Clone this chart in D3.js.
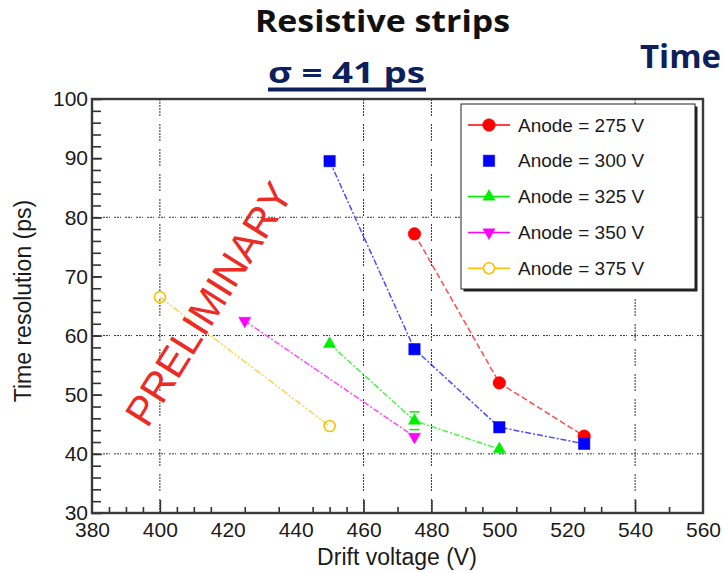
<!DOCTYPE html>
<html>
<head>
<meta charset="utf-8">
<script src="https://cdn.jsdelivr.net/npm/d3@7"></script>
<style>
  body { margin: 0; background: #fff; }
  svg { display: block; }
  text { font-family: "Liberation Sans", Arial, sans-serif; }
</style>
</head>
<body>
<svg id="chart" width="725" height="573"></svg>
<script>
// values
var seriesNames = ["Anode = 275 V", "Anode = 300 V", "Anode = 325 V", "Anode = 350 V", "Anode = 375 V"];
var drift275 = [475, 500, 525];
var res275   = [77.2, 52.0, 43.0];
var drift300 = [450, 475, 500, 525];
var res300   = [89.5, 57.7, 44.5, 41.7];
var drift325 = [450, 475, 500];
var res325   = [58.6, 45.6, 40.8];
var err325   = [0, 1.5, 0];
var drift350 = [425, 475];
var res350   = [62.5, 42.9];
var drift375 = [400, 450];
var res375   = [66.5, 44.7];

var xTickLabels = [380, 400, 420, 440, 460, 480, 500, 520, 540, 560];
var yTickLabels = [30, 40, 50, 60, 70, 80, 90, 100];
var xGrid = [400, 460, 480, 540];
var yGrid = [40, 60, 80];
var xMinorTicks = [385, 390, 395, 405, 410, 415, 425, 435, 445, 450, 455, 470, 490, 495, 505, 515, 525, 530, 550];
var yMinorTicks = d3.range(32, 100, 2);

var svg = d3.select("#chart");
svg.append("rect").attr("width", 725).attr("height", 573).attr("fill", "#fff");

var padL = 92, padR = 703, padT = 99, padB = 513;

var xScale = d3.scaleLinear().domain([380, 560]).range([padL, padR]);
var yScale = d3.scaleLinear().domain([30, 100]).range([padB, padT]);

// slide headings
svg.append("text")
    .attr("x", 255).attr("y", 32)
    .attr("textLength", 255)
    .attr("lengthAdjust", "spacingAndGlyphs")
    .style("font-family", "'Open Sans', 'Noto Sans', sans-serif")
    .style("font-weight", "bold")
    .style("font-size", "30px")
    .style("fill", "#111")
    .text("Resistive strips");

svg.append("text")
    .attr("x", 268).attr("y", 83)
    .attr("textLength", 157)
    .attr("lengthAdjust", "spacingAndGlyphs")
    .style("font-family", "'Open Sans', 'Noto Sans', sans-serif")
    .style("font-weight", "bold")
    .style("font-size", "28px")
    .style("fill", "#0d1f5c")
    .text("σ = 41 ps");
svg.append("rect")
    .attr("x", 268).attr("y", 87.5).attr("width", 158).attr("height", 4)
    .attr("fill", "#0d1f5c");

svg.append("text")
    .attr("x", 640).attr("y", 68)
    .style("font-family", "'Open Sans', 'Noto Sans', sans-serif")
    .style("font-weight", "bold")
    .style("font-size", "33px")
    .style("fill", "#0d1f5c")
    .text("Time");

// grid (dotted dashes)
var grid = svg.append("g")
    .attr("stroke", "#333")
    .attr("stroke-width", 1);
grid.selectAll(".gx")
    .data(xGrid)
    .enter().append("line")
    .attr("x1", function(d) { return xScale(d); })
    .attr("x2", function(d) { return xScale(d); })
    .attr("y1", padT).attr("y2", padB)
    .attr("stroke-dasharray", "2,1,2,1,2,1,2,1,2,1,2,8");
grid.selectAll(".gy")
    .data(yGrid)
    .enter().append("line")
    .attr("x1", padL).attr("x2", padR)
    .attr("y1", function(d) { return yScale(d); })
    .attr("y2", function(d) { return yScale(d); })
    .attr("stroke-dasharray", "2,1,2,1,1,4");

// axes (ticks pointing inside, like ROOT)
var yAxis = d3.axisLeft(yScale).tickValues(yTickLabels).tickSize(-10).tickPadding(4);
var yMinor = d3.axisLeft(yScale).tickValues(yMinorTicks).tickSize(-9).tickFormat("");
var xAxis = d3.axisBottom(xScale).tickValues(xTickLabels).tickSize(0).tickPadding(9);
var xMajor = d3.axisBottom(xScale).tickValues(xGrid).tickSize(-13).tickFormat("");
var xMinor = d3.axisBottom(xScale).tickValues(xMinorTicks).tickSize(-6).tickFormat("");

function styleAxis(g) {
    g.select(".domain").remove();
    g.selectAll("line").attr("stroke", "#333").attr("stroke-width", 1.6);
    g.selectAll("text").style("font-size", "21px").attr("fill", "#1a1a1a");
}

svg.append("g").attr("transform", "translate(" + padL + ",0)").call(yMinor).call(styleAxis);
svg.append("g").attr("transform", "translate(" + padL + ",0)").call(yAxis).call(styleAxis);
svg.append("g").attr("transform", "translate(0," + padB + ")").call(xMinor).call(styleAxis);
svg.append("g").attr("transform", "translate(0," + padB + ")").call(xMajor).call(styleAxis);
svg.append("g").attr("transform", "translate(0," + padB + ")").call(xAxis).call(styleAxis);

// frame
svg.append("rect")
    .attr("x", padL).attr("y", padT)
    .attr("width", padR - padL).attr("height", padB - padT)
    .attr("fill", "none")
    .attr("stroke", "#3a3a3a")
    .attr("stroke-width", 2.4);

// axis titles
svg.append("text")
    .attr("x", 397).attr("y", 565)
    .attr("text-anchor", "middle")
    .style("font-size", "23px")
    .style("fill", "#1a1a1a")
    .text("Drift voltage (V)");

svg.append("text")
    .attr("transform", "translate(31,301) rotate(-90)")
    .attr("text-anchor", "middle")
    .style("font-size", "23px")
    .style("fill", "#1a1a1a")
    .text("Time resolution (ps)");

// series
var series = [
    {name: seriesNames[0], x: drift275, y: res275, color: "#ff0000", symbol: d3.symbolCircle, size: 125, rot: 0, open: false, dash: "6,3", line: true},
    {name: seriesNames[1], x: drift300, y: res300, color: "#0000ff", symbol: d3.symbolSquare, size: 130, rot: 0, open: false, dash: "6,2,2,2", line: false},
    {name: seriesNames[2], x: drift325, y: res325, err: err325, color: "#00ee00", symbol: d3.symbolTriangle, size: 65, rot: 0, open: false, dash: "6,2,2,2", line: true},
    {name: seriesNames[3], x: drift350, y: res350, color: "#ff00ff", symbol: d3.symbolTriangle, size: 65, rot: 180, open: false, dash: "6,2,2,2", line: true},
    {name: seriesNames[4], x: drift375, y: res375, color: "#ffc000", symbol: d3.symbolCircle, size: 95, rot: 0, open: true, dash: "7,2,2,2,2,2", line: true}
];

var lineGen = d3.line()
    .x(function(d) { return xScale(d[0]); })
    .y(function(d) { return yScale(d[1]); });

series.forEach(function(s) {
    var pts = d3.zip(s.x, s.y);
    svg.append("path")
        .datum(pts)
        .attr("d", lineGen)
        .attr("fill", "none")
        .attr("stroke", s.color)
        .attr("stroke-width", 1.5)
        .attr("stroke-opacity", 0.7)
        .attr("stroke-dasharray", s.dash);
});

series.forEach(function(s) {
    var pts = d3.zip(s.x, s.y);
    if (s.err) {
        pts.forEach(function(p, i) {
            if (!s.err[i]) return;
            var cx = xScale(p[0]);
            [p[1] + s.err[i], p[1] - s.err[i]].forEach(function(v) {
                svg.append("line")
                    .attr("x1", cx - 5).attr("x2", cx + 5)
                    .attr("y1", yScale(v)).attr("y2", yScale(v))
                    .attr("stroke", s.color).attr("stroke-width", 1.5);
            });
        });
    }
    svg.selectAll(null)
        .data(pts)
        .enter().append("path")
        .attr("transform", function(d) {
            return "translate(" + xScale(d[0]) + "," + yScale(d[1]) + ") rotate(" + s.rot + ")";
        })
        .attr("d", d3.symbol().type(s.symbol).size(s.size))
        .attr("fill", s.open ? "none" : s.color)
        .attr("stroke", s.color)
        .attr("stroke-width", s.open ? 1.6 : 0.5);
});

// PRELIMINARY watermark
svg.append("text")
    .attr("transform", "translate(209,304) rotate(-58)")
    .attr("text-anchor", "middle")
    .attr("dominant-baseline", "central")
    .style("font-size", "41px")
    .style("fill", "#ee2a24")
    .text("PRELIMINARY");

// legend
var lgX = 461, lgY = 104, lgW = 234, lgH = 185;
svg.append("rect")
    .attr("x", lgX + 2.5).attr("y", lgY + 2.5)
    .attr("width", lgW).attr("height", lgH)
    .attr("fill", "#222");
svg.append("rect")
    .attr("x", lgX).attr("y", lgY)
    .attr("width", lgW).attr("height", lgH)
    .attr("fill", "#fff")
    .attr("stroke", "#222")
    .attr("stroke-width", 1);

var legend = svg.selectAll(".legend")
    .data(series)
    .enter().append("g")
    .attr("class", "legend")
    .attr("transform", function(d, i) { return "translate(0," + (125 + i * 35.8) + ")"; });

legend.filter(function(d) { return d.line; })
    .append("line")
    .attr("x1", 468).attr("x2", 510)
    .attr("stroke", function(d) { return d.color; })
    .attr("stroke-width", 1.5);

legend.append("path")
    .attr("transform", function(d) { return "translate(489,0) rotate(" + d.rot + ")"; })
    .attr("d", function(d) { return d3.symbol().type(d.symbol).size(d.size)(); })
    .attr("fill", function(d) { return d.open ? "#fff" : d.color; })
    .attr("stroke", function(d) { return d.color; })
    .attr("stroke-width", function(d) { return d.open ? 1.6 : 0.5; });

legend.append("text")
    .attr("x", 518)
    .attr("dy", "0.35em")
    .style("font-size", "19px")
    .style("fill", "#1a1a1a")
    .text(function(d) { return d.name; });
</script>
</body>
</html>
